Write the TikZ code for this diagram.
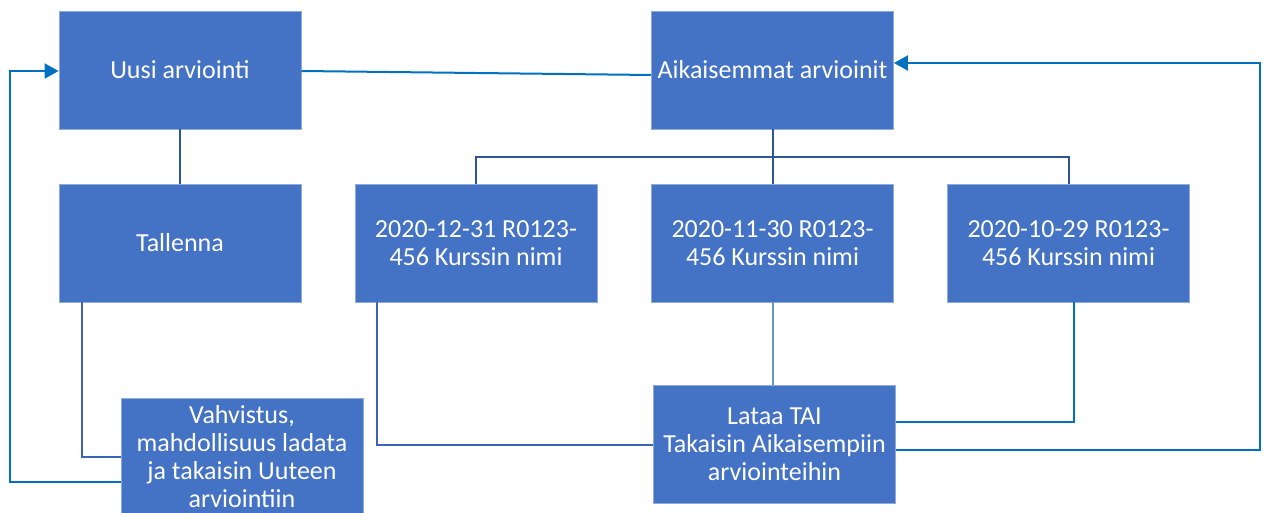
\documentclass[tikz,border=0pt]{standalone}
\usepackage{fontspec}
\setmainfont{Carlito}
\usetikzlibrary{arrows.meta}
\definecolor{boxblue}{HTML}{4472C4}
\definecolor{boxedge}{HTML}{8FAADC}
\definecolor{darkline}{HTML}{2F5597}
\definecolor{midline}{HTML}{3B64B4}
\definecolor{brightline}{HTML}{0070C0}
\definecolor{lightline}{HTML}{5B9BD5}
\begin{document}
\begin{tikzpicture}[x=1pt, y=-1pt, line width=2pt,
		box/.style={rectangle, fill=boxblue, draw=boxedge, line width=0.8pt, minimum width=242pt, minimum height=118pt,
			inner sep=2pt, text=white, align=center, font=\fontsize{26}{28}\selectfont},
		tip/.style={-{Triangle[length=14pt,width=15pt]}}]
					\useasboundingbox (0,0) rectangle (1267,513);
					\node[box] (uusi) at (180,70) {Uusi arviointi};
					\node[box] (aik) at (772.5,70) {Aikaisemmat arvioinit};
					\node[box] (tall) at (180,243) {Tallenna};
					\node[box] (d1) at (476,243) {2020-12-31 R0123-\\456 Kurssin nimi};
					\node[box] (d2) at (772.5,243) {2020-11-30 R0123-\\456 Kurssin nimi};
					\node[box] (d3) at (1068.5,243) {2020-10-29 R0123-\\456 Kurssin nimi};
					\node[box] (vahv) at (242,457) {Vahvistus,\\mahdollisuus ladata\\ja takaisin Uuteen\\arviointiin};
					\node[box] (lataa) at (774.5,444.5) {Lataa TAI\\Takaisin Aikaisempiin\\arviointeihin};
					% yhteydet
					\draw[brightline] ([yshift=-1pt]uusi.east) -- ([yshift=-5pt]aik.west);
					\draw[darkline] (uusi.south) -- (tall.north);
					\draw[darkline] (aik.south) -- ++(0,28) coordinate (hub);
					\foreach \d in {d1,d2,d3} \draw[darkline] (hub) -| (\d.north);
					\draw[midline] ([xshift=23pt]tall.south west) |- (vahv.west);
					\draw[brightline, tip] ([yshift=-25pt]vahv.west) -- ++(-111,0) |- ([yshift=-1pt]uusi.west);
					\draw[midline] ([xshift=22pt]d1.south west) |- (lataa.west);
					\draw[lightline] (d2.south) -- (d2.south |- lataa.north);
					\draw[brightline] ([xshift=5pt]d3.south) |- ([yshift=22.5pt]lataa.east);
					\draw[brightline, tip] ([yshift=-5.5pt]lataa.east) -- ++(364,0) |- ([yshift=7pt]aik.east);
			\end{tikzpicture}
\end{document}
